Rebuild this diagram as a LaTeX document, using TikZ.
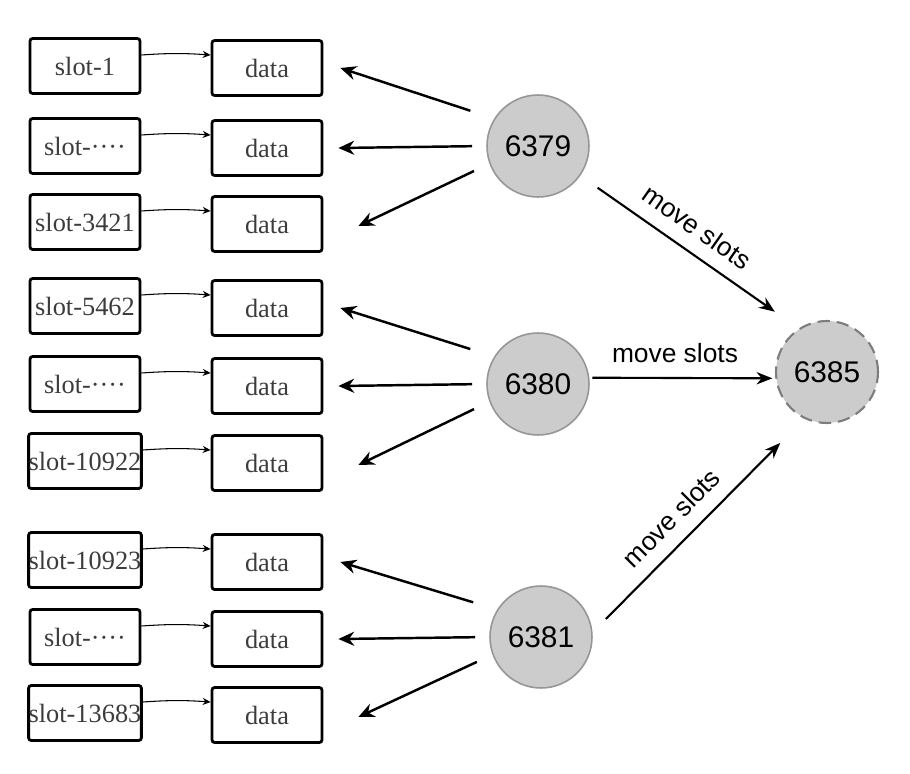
\documentclass[tikz,border=0pt]{standalone}
\usepackage{fontspec}
\setmainfont{Liberation Serif}
\setsansfont{Liberation Sans}
\usetikzlibrary{arrows.meta,positioning}
\definecolor{NodeGray}{RGB}{204,204,204}
\definecolor{RingGray}{RGB}{150,150,150}
\definecolor{DashGray}{RGB}{125,125,125}
\definecolor{BoxText}{RGB}{60,60,60}

\begin{document}
\begin{tikzpicture}[x=0.02cm,y=-0.02cm,
  slotbox/.style={draw,line width=1.6pt,rounded corners=1.5pt,
    minimum width=2.2cm,minimum height=1.1cm,inner sep=0pt,
    text=BoxText,font=\fontsize{15}{17}\selectfont},
  server/.style={circle,draw=RingGray,fill=NodeGray,line width=0.9pt,
    minimum size=2.04cm,inner sep=0pt,font=\sffamily\fontsize{17}{20}\selectfont},
  link/.style={-{Stealth[length=4.5pt,width=4pt]},line width=0.6pt},
  fetch/.style={-{Stealth[length=9pt,width=8pt]},line width=1.4pt},
  movearrow/.style={-{Stealth[length=9pt,width=7pt]},line width=1.2pt},
  movelbl/.style={font=\sffamily\fontsize{15}{18}\selectfont,sloped,above=7pt,inner sep=1pt}
]
\useasboundingbox (0,0) rectangle (910,774);

% slot and data boxes
\foreach \i/\y/\txt in {1/66/slot-1, 2/146/slot-····, 3/222/slot-3421,
    4/306/slot-5462, 5/384/slot-····, 6/461/slot-10922,
    7/560/slot-10923, 8/637/slot-····, 9/713/slot-13683}{
  \node[slotbox] (slot\i) at (85,\y) {\txt};
  \node[slotbox] (data\i) at (267,\y+2) {data};
  \draw[link] ([yshift=0.22cm]slot\i.east) to[bend left=4] ([yshift=0.26cm]data\i.west);
}

% servers
\node[server] (m6379) at (538,146) {6379};
\node[server] (m6380) at (538,384) {6380};
\node[server] (m6381) at (541,637) {6381};
\node[server,draw=DashGray,line width=1.2pt,dash pattern=on 7pt off 4pt] (m6385) at (827,372) {6385};

% server -> data
\foreach \m/\a/\b/\c in {6379/1/2/3, 6380/4/5/6, 6381/7/8/9}{
  \draw[fetch,shorten <=0.5cm] (m\m.148) -- ([xshift=0.34cm]data\a.east);
  \draw[fetch,shorten <=0.28cm] (m\m.180) -- ([xshift=0.3cm]data\b.east);
  \draw[fetch,shorten <=0.34cm] (m\m.200) -- ([xshift=0.7cm,yshift=-0.04cm]data\c.east);
}

% migration
\draw[movearrow,shorten <=0.42cm,shorten >=0.58cm] (m6379.325) -- node[movelbl,pos=0.47] {move slots} (m6385.123);
\draw[movearrow,shorten <=0.06cm,shorten >=0.06cm] (m6380.7) -- node[movelbl,pos=0.46] {move slots} (m6385.187);
\draw[movearrow,shorten <=0.38cm,shorten >=0.68cm] (m6381.5) -- node[movelbl,pos=0.455] {move slots} (m6385.244);
\end{tikzpicture}
\end{document}
